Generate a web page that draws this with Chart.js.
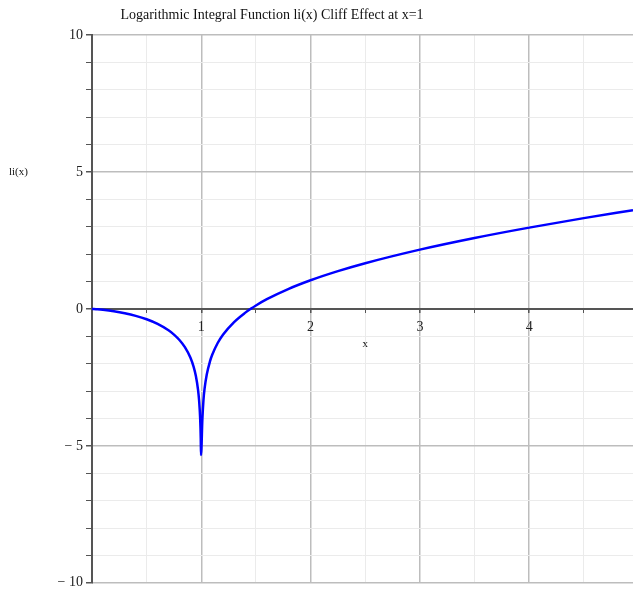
<!DOCTYPE html>
<html>
<head>
<meta charset="utf-8">
<script src="https://cdn.jsdelivr.net/npm/chart.js@4"></script>
<style>
  html, body { margin: 0; padding: 0; background: #fff; }
  #wrap { width: 633px; height: 593px; }
</style>
</head>
<body>
<div id="wrap"><canvas id="liChart" width="633" height="593"></canvas></div>
<script>
// sampled points of li(x), denser near the singularity at x = 1
const xValues = [0, 0.05, 0.1, 0.2, 0.3, 0.4, 0.5, 0.6, 0.7, 0.75, 0.8, 0.85, 0.9, 0.93, 0.95, 0.97, 0.98, 0.99, 0.995, 0.9973,
  1.0102, 1.02, 1.03, 1.05, 1.08, 1.1, 1.15, 1.2, 1.3, 1.4, 1.4514, 1.5, 1.6, 1.8, 2, 2.25, 2.5, 3, 3.5, 4, 4.5, 4.95];
const liValues = [0, -0.0131, -0.0324, -0.0851, -0.1575, -0.253, -0.3787, -0.5469, -0.7809, -0.9369, -1.134, -1.3959, -1.7758, -2.1172, -2.4436, -2.9444, -3.3448, -4.033, -4.7236, -5.3386,
  -4.0031, -3.3248, -2.9144, -2.3936, -1.9088, -1.6758, -1.2458, -0.9338, -0.4802, -0.145, 0, 0.125, 0.3537, 0.7327, 1.0452, 1.3778, 1.6673, 2.1636, 2.5888, 2.9676, 3.3135, 3.6035];

const xTicks = [0, 0.5, 1, 1.5, 2, 2.5, 3, 3.5, 4, 4.5];
const xTickLabels = ["", "", "1", "", "2", "", "3", "", "4", ""];
const yTicks = [-10, -9, -8, -7, -6, -5, -4, -3, -2, -1, 0, 1, 2, 3, 4, 5, 6, 7, 8, 9, 10];
const yLabelValues = [10, 5, 0, -5, -10];
const yLabelTexts = ["10", "5", "0", "\u2212 5", "\u2212 10"];

const titleText = "Logarithmic Integral Function li(x) Cliff Effect at x=1";
const serif = "'Liberation Serif', 'Times New Roman', serif";

const points = xValues.map((x, i) => ({ x, y: liValues[i] }));

const labelsPlugin = {
  id: "labels",
  afterDraw(chart) {
    const { ctx } = chart;
    const xs = chart.scales.x;
    const ys = chart.scales.y;
    ctx.save();
    ctx.fillStyle = "#111";
    ctx.textBaseline = "middle";
    ctx.textAlign = "center";
    ctx.font = `14px ${serif}`;
    ctx.fillText(titleText, 272, 15);

    ctx.font = `11px ${serif}`;
    ctx.fillText("x", xs.getPixelForValue(2.5), 344);
    ctx.textAlign = "left";
    ctx.fillText("li(x)", 9, 172);

    // y tick labels sit left of the axis that crosses at x = 0
    ctx.font = `14px ${serif}`;
    ctx.fillStyle = "#222";
    ctx.textAlign = "right";
    const axisX = xs.getPixelForValue(0);
    yLabelValues.forEach((v, i) => {
      ctx.fillText(yLabelTexts[i], axisX - 9, ys.getPixelForValue(v));
    });
    ctx.restore();
  },
};

new Chart(document.getElementById("liChart"), {
  type: "scatter",
  data: {
    datasets: [
      {
        data: points,
        showLine: true,
        borderColor: "#0000ff",
        borderWidth: 2.5,
        pointRadius: 0,
        cubicInterpolationMode: "monotone",
      },
    ],
  },
  options: {
    responsive: false,
    animation: false,
    layout: { padding: { left: 92, top: 35, right: 0, bottom: 10 } },
    plugins: {
      legend: { display: false },
      title: { display: false },
      tooltip: { enabled: false },
    },
    scales: {
      x: {
        type: "linear",
        min: 0,
        max: 4.95,
        position: { y: 0 },
        afterBuildTicks: (scale) => {
          scale.ticks = xTicks.map((v) => ({ value: v }));
        },
        ticks: {
          autoSkip: false,
          maxRotation: 0,
          padding: 7,
          color: "#222",
          font: { family: serif, size: 14 },
          callback: (v) => xTickLabels[xTicks.indexOf(v)] ?? "",
        },
        grid: {
          color: (c) => (c.tick && Number.isInteger(c.tick.value) ? "#bdbdbd" : "#ebebeb"),
          lineWidth: (c) => (c.tick && Number.isInteger(c.tick.value) ? 1.5 : 1),
          tickColor: "#555",
          tickLength: 3,
        },
        border: { color: "#555", width: 2 },
      },
      y: {
        type: "linear",
        min: -10,
        max: 10,
        position: { x: 0 },
        afterBuildTicks: (scale) => {
          scale.ticks = yTicks.map((v) => ({ value: v }));
        },
        ticks: {
          autoSkip: false,
          callback: () => "",
        },
        grid: {
          color: (c) => (c.tick && c.tick.value % 5 === 0 ? "#bdbdbd" : "#ebebeb"),
          lineWidth: (c) => (c.tick && c.tick.value % 5 === 0 ? 1.5 : 1),
          tickColor: "#555",
          tickLength: 5,
        },
        border: { color: "#555", width: 2 },
      },
    },
  },
  plugins: [labelsPlugin],
});
</script>
</body>
</html>
